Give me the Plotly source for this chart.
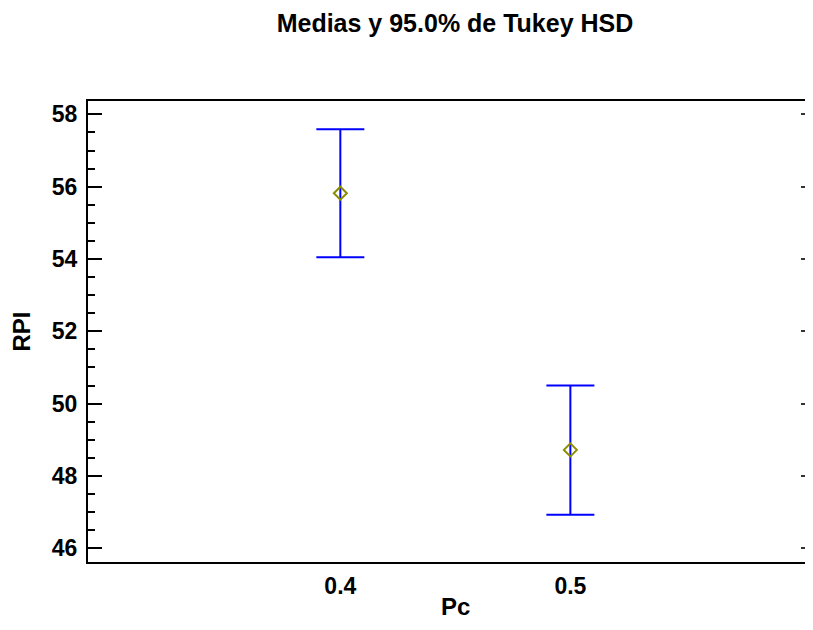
import plotly.graph_objects as go

# Data
categories = [0.4, 0.5]
means = [55.82, 48.72]
lower_limits = [54.05, 46.93]
upper_limits = [57.59, 50.50]
y_ticks = [46, 48, 50, 52, 54, 56, 58]

err_plus = [u - m for u, m in zip(upper_limits, means)]
err_minus = [m - l for m, l in zip(means, lower_limits)]

FONT = "Liberation Sans, Arial, sans-serif"
# page body has an 8px margin; figure sized so the page fits 813x630 exactly
W, H = 797, 614
ML, MT, MB = 80, 93, 60
PLOT_H = H - MT - MB

fig = go.Figure()
fig.add_trace(go.Scatter(
    x=categories, y=means, mode="markers",
    marker=dict(symbol="diamond-open", size=10, color="#8c8c00", line=dict(width=2)),
    error_y=dict(type="data", symmetric=False, array=err_plus, arrayminus=err_minus,
                 color="#0000ff", thickness=2, width=24),
    showlegend=False, hoverinfo="skip",
))
fig.add_trace(go.Scatter(
    x=categories, y=means, mode="markers", yaxis="y2",
    marker=dict(opacity=0), showlegend=False, hoverinfo="skip",
))

fig.add_annotation(
    text="<b>Pc</b>", xref="paper", yref="paper", x=0.512, y=-MB / PLOT_H,
    xanchor="center", yanchor="bottom", yshift=0, showarrow=False,
    font=dict(size=24, family=FONT, color="black"),
)

fig.update_layout(
    width=W, height=H,
    paper_bgcolor="white", plot_bgcolor="white",
    margin=dict(l=ML, r=0, t=MT, b=MB, autoexpand=False),
    font=dict(family=FONT, color="black"),
    title=dict(text="<b>Medias y 95.0% de Tukey HSD</b>", x=447 / W, xanchor="center",
               y=1 - 15 / H, yanchor="middle", yref="container",
               font=dict(size=25, family=FONT, color="black")),
    xaxis=dict(
        range=[0.2903, 0.602], tickvals=categories, ticktext=["<b>0.4</b>", "<b>0.5</b>"],
        showgrid=False, zeroline=False, showline=True, linecolor="black", linewidth=2,
        mirror=True, ticks="", tickfont=dict(size=23, family=FONT), ticklabelstandoff=2,
    ),
    yaxis=dict(
        range=[45.62, 58.37], tickvals=y_ticks,
        ticktext=["<b>%d</b>" % v for v in y_ticks],
        showgrid=False, zeroline=False, showline=True, linecolor="black", linewidth=2,
        ticks="inside", ticklen=14, tickwidth=2, tickcolor="black",
        minor=dict(dtick=0.5, tick0=0, ticks="inside", ticklen=7, tickwidth=2, tickcolor="black"),
        tickfont=dict(size=23, family=FONT), ticklabelstandoff=4,
        title=dict(text="<b>RPI</b>", font=dict(size=24, family=FONT), standoff=14),
    ),
    yaxis2=dict(
        overlaying="y", side="right", matches="y", range=[45.62, 58.37],
        tickvals=y_ticks, showticklabels=False,
        showgrid=False, zeroline=False, showline=False,
        ticks="inside", ticklen=4, tickwidth=2, tickcolor="#333333",
    ),
)

fig.write_html("out.html")
